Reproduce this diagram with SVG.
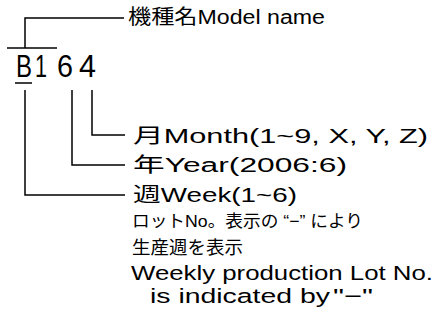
<svg xmlns="http://www.w3.org/2000/svg" width="436" height="322" viewBox="0 0 436 322">
<style>
.t{font-family:"Liberation Sans","Noto Sans CJK JP",sans-serif;fill:#000;}
.ln{fill:none;stroke:#000;stroke-width:1.5;}
</style>
<rect width="436" height="322" fill="#fff"/>
<g id="connectors">
<polyline class="ln" points="25,48 25,18 124,18"/>
<polyline class="ln" points="25,90 25,195 125,195"/>
<polyline class="ln" points="72,90 72,165 125,165"/>
<polyline class="ln" points="92,90 92,135 125,135"/>
</g>
<g id="code">
<line class="ln" x1="7" y1="48" x2="57" y2="48"/>
<line class="ln" x1="15" y1="83" x2="32" y2="83"/>
<text class="t" x="16" y="77" font-size="31" textLength="16" lengthAdjust="spacingAndGlyphs">B</text>
<text class="t" x="35" y="77" font-size="31" textLength="12" lengthAdjust="spacingAndGlyphs">1</text>
<text class="t" x="57" y="77" font-size="31" textLength="16" lengthAdjust="spacingAndGlyphs">6</text>
<text class="t" x="79" y="77" font-size="31" textLength="17" lengthAdjust="spacingAndGlyphs">4</text>
</g>
<g id="model">
<text class="t" x="128" y="24" font-size="20" textLength="197" lengthAdjust="spacingAndGlyphs">機種名Model name</text>
</g>
<g id="month">
<text class="t" x="133" y="143" font-size="20" textLength="295" lengthAdjust="spacingAndGlyphs">月Month(1~9, X, Y, Z)</text>
</g>
<g id="year">
<text class="t" x="133" y="172" font-size="20" textLength="214" lengthAdjust="spacingAndGlyphs">年Year(2006:6)</text>
</g>
<g id="week">
<text class="t" x="133" y="202" font-size="20" textLength="164" lengthAdjust="spacingAndGlyphs">週Week(1~6)</text>
<text class="t" x="132" y="227" font-size="17" textLength="231" lengthAdjust="spacingAndGlyphs">ロットNo。表示の “−” により</text>
<text class="t" x="132" y="254" font-size="18" textLength="111" lengthAdjust="spacingAndGlyphs">生産週を表示</text>
<text class="t" x="131" y="280" font-size="20.5" textLength="302" lengthAdjust="spacingAndGlyphs">Weekly production Lot No.</text>
<text class="t" x="150" y="303" font-size="20.5" textLength="180" lengthAdjust="spacingAndGlyphs">is indicated by</text>
<text class="t" x="333" y="303" font-size="20.5" textLength="40" lengthAdjust="spacingAndGlyphs">"−"</text>
</g>
</svg>
